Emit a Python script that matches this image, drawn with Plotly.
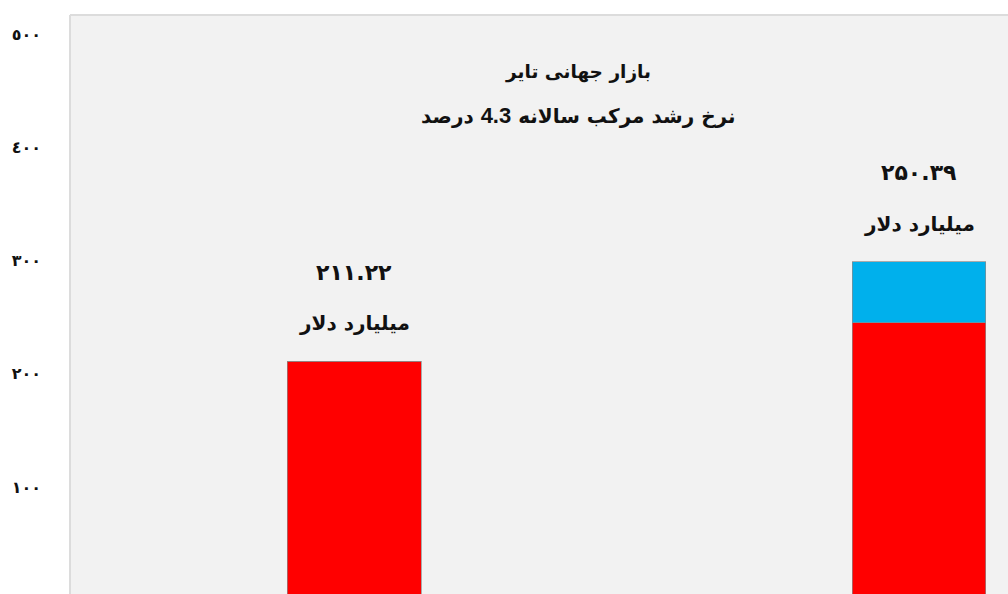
import plotly.graph_objects as go

# ---- data ----
categories = [0, 1]
base_values = [211.22, 245.0]      # red segment
growth_values = [0.0, 54.0]        # blue segment (right bar only)
value_labels = ["۲۱۱.۲۲", "۲۵۰.۳۹"]
unit_label = "میلیارد دلار"
tick_values = [100, 200, 300, 400, 500]
tick_labels = ["١٠٠", "٢٠٠", "٣٠٠", "٤٠٠", "٥٠٠"]
title_line1 = "بازار جهانی تایر"
title_line2 = "\u202Bنرخ رشد مرکب سالانه <span style='font-family:Liberation Sans;font-size:22px'>4.3</span> درصد\u202C"

FONT = "DejaVu Sans, Liberation Sans, sans-serif"

W, H = 1008, 594
L, R, T, B = 70, 0, 15, 0
pw, ph = W - L - R, H - T - B

fig = go.Figure()
fig.add_trace(go.Bar(
    x=categories, y=base_values, width=0.237,
    marker=dict(color="#ff0000", line=dict(color="rgba(140,140,140,0.7)", width=1)),
    hoverinfo="skip", showlegend=False,
))
fig.add_trace(go.Bar(
    x=categories, y=growth_values, width=0.237,
    marker=dict(color="#00b0ec", line=dict(color="rgba(140,140,140,0.7)", width=1)),
    hoverinfo="skip", showlegend=False,
))

totals = [b + g for b, g in zip(base_values, growth_values)]
annotations = []
for x, t, lab in zip(categories, totals, value_labels):
    annotations.append(dict(x=x, y=t, xref="x", yref="y", text=f"<b>{lab}</b>",
                            showarrow=False, xanchor="center", yanchor="middle", yshift=89,
                            font=dict(family=FONT, size=22, color="#111111")))
    annotations.append(dict(x=x, y=t, xref="x", yref="y", text=f"<b>{unit_label}</b>",
                            showarrow=False, xanchor="center", yanchor="middle", yshift=38,
                            font=dict(family=FONT, size=20, color="#111111")))

def page_to_paper(px, py):
    return (px - L) / pw, 1 - (py - T) / ph

for (px, py), txt, fs in [((578, 72), title_line1, 18.5), ((578, 115), title_line2, 20)]:
    xp, yp = page_to_paper(px, py)
    annotations.append(dict(x=xp, y=yp, xref="paper", yref="paper", text=f"<b>{txt}</b>",
                            showarrow=False, xanchor="center", yanchor="middle",
                            font=dict(family=FONT, size=fs, color="#111111")))

fig.update_layout(
    width=W, height=H,
    margin=dict(l=L, r=R, t=T, b=B, pad=0),
    paper_bgcolor="white",
    plot_bgcolor="#f2f2f2",
    barmode="stack",
    bargap=0,
    annotations=annotations,
    xaxis=dict(range=[-0.503, 1.1575], showticklabels=False, showgrid=False,
               zeroline=False, showline=False, fixedrange=True),
    yaxis=dict(range=[5.5, 516.8], tickvals=tick_values, ticktext=tick_labels,
               showgrid=False, zeroline=False, showline=False, fixedrange=True,
               ticklabelstandoff=28,
               tickfont=dict(family=FONT, size=16, color="#111111", weight="bold")),
    shapes=[
        dict(type="line", xref="paper", yref="paper", x0=0, x1=0, y0=0, y1=1,
             line=dict(color="#dcdcdc", width=2)),
        dict(type="line", xref="paper", yref="paper", x0=0, x1=1, y0=1, y1=1,
             line=dict(color="#dcdcdc", width=2)),
    ],
)

fig.write_html(
    "out.html",
    config={"displayModeBar": False, "staticPlot": True},
    post_script="document.body.style.margin='0';document.body.style.overflow='hidden';",
)
